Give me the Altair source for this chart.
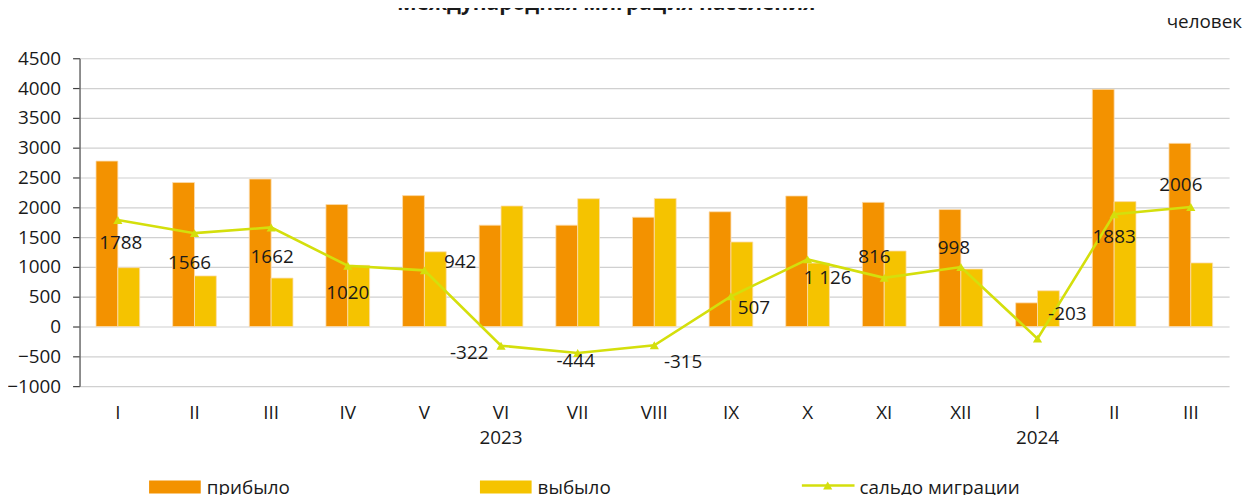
import altair as alt
import pandas as pd

# ---------------- data ----------------
MONTHS = ["I", "II", "III", "IV", "V", "VI", "VII", "VIII", "IX", "X", "XI", "XII", "I", "II", "III"]
YEARS = [2023] * 12 + [2024] * 3
ARRIVED = [2775, 2415, 2474, 2046, 2196, 1700, 1700, 1833, 1925, 2190, 2083, 1962, 397, 3978, 3073]
DEPARTED = [987, 849, 812, 1026, 1254, 2022, 2144, 2148, 1418, 1064, 1267, 964, 600, 2095, 1067]
NET = [1788, 1566, 1662, 1020, 942, -322, -444, -315, 507, 1126, 816, 998, -203, 1883, 2006]
NET_LABELS = ["1788", "1566", "1662", "1020", "942", "-322", "-444", "-315", "507",
              "1 126", "816", "998", "-203", "1883", "2006"]
SERIES = ["прибыло", "выбыло"]
LINE_NAME = "сальдо миграции"
YEAR_LABELS = ["2023", "2024"]
YEAR_LABEL_AT = ["VI|2023", "I|2024"]
Y_TICKS = [-1000, -500, 0, 500, 1000, 1500, 2000, 2500, 3000, 3500, 4000, 4500]
TITLE = "Международная миграция населения"
UNIT = "человек"

# ---------------- layout / style ----------------
LABEL_DX = [3, -5, 1, 0, 36, -32, -2, 29, 23, 20, -10, -7, 30, 0, -10]
LABEL_DY = [23, 30, 30, 28, -8, 7, 8, 17, 12, 19, -21, -19, -25, 23, -22]
FONT = "Open Sans"
ORANGE = "#F39200"
YELLOW = "#F5C300"
LINE = "#D4DF0C"
TXT = "#1a1a1a"

keys = [f"{m}|{y}" for m, y in zip(MONTHS, YEARS)]
bars = pd.DataFrame({
    "key": keys * 2,
    "series": [SERIES[0]] * len(keys) + [SERIES[1]] * len(keys),
    "value": ARRIVED + DEPARTED,
})
line_df = pd.DataFrame({"key": keys, "net": NET, "label": NET_LABELS})
year_df = pd.DataFrame({"key": YEAR_LABEL_AT, "label": YEAR_LABELS})
one = pd.DataFrame({"a": [0]})

x_scale = alt.Scale(domain=keys, paddingInner=0.43, paddingOuter=0.215)
y_scale = alt.Scale(domain=[Y_TICKS[0], Y_TICKS[-1]], nice=False, zero=False)

x_axis = alt.Axis(title=None, labelExpr="split(datum.value, '|')[0]", domain=False, ticks=False,
                  grid=False, labelFontSize=19, labelPadding=18, labelColor=TXT, labelAngle=0,
                  labelFont=FONT)
y_axis = alt.Axis(title=None, values=Y_TICKS, format="d", labelOverlap=False, grid=True,
                  gridColor="#D0D0D0", gridWidth=1.2, domainColor="#6a6a6a", domainWidth=1.5,
                  tickColor="#404040", tickSize=7, tickWidth=1.2, labelFontSize=19,
                  labelPadding=12, labelColor=TXT, labelFont=FONT)


def X():
    return alt.X("key:N", sort=keys, scale=x_scale, axis=x_axis)


def Y(field):
    return alt.Y(field, scale=y_scale, axis=y_axis)


bar_layer = alt.Chart(bars).mark_bar(stroke="#FBDDB0", strokeWidth=0.8).encode(
    x=X(),
    xOffset=alt.XOffset("series:N", sort=SERIES,
                        scale=alt.Scale(domain=SERIES, paddingInner=0, paddingOuter=0)),
    y=Y("value:Q"),
    color=alt.Color("series:N", scale=alt.Scale(domain=SERIES, range=[ORANGE, YELLOW]), legend=None),
)

line_layer = alt.Chart(line_df).mark_line(
    color=LINE, strokeWidth=2.6,
    point=alt.OverlayMarkDef(shape="triangle-up", size=85, color=LINE, filled=True, opacity=1),
).encode(x=X(), y=Y("net:Q"))

label_layers = []
for i, k in enumerate(keys):
    label_layers.append(
        alt.Chart(line_df).transform_filter(alt.datum.key == k).mark_text(
            dx=LABEL_DX[i], dy=LABEL_DY[i], fontSize=19, font=FONT, color=TXT, baseline="middle"
        ).encode(x=X(), y=Y("net:Q"), text="label:N")
    )

year_layer = alt.Chart(year_df).mark_text(fontSize=19, font=FONT, color=TXT, baseline="middle").encode(
    x=X(), y=alt.value(382), text="label:N")

title_layer = alt.Chart(one).mark_text(fontSize=21, font=FONT, fontWeight="bold", color=TXT,
                                       baseline="alphabetic", text=TITLE).encode(
    x=alt.value(530), y=alt.value(-49))
unit_layer = alt.Chart(one).mark_text(fontSize=19, font=FONT, color=TXT, align="right",
                                      baseline="alphabetic", text=UNIT).encode(
    x=alt.value(1170), y=alt.value(-30))

# legend
leg_rect1 = alt.Chart(one).mark_rect(color=ORANGE).encode(
    x=alt.value(70), x2=alt.value(122), y=alt.value(425), y2=alt.value(438))
leg_rect2 = alt.Chart(one).mark_rect(color=YELLOW).encode(
    x=alt.value(403), x2=alt.value(455), y=alt.value(425), y2=alt.value(438))
leg_rule = alt.Chart(one).mark_rule(color=LINE, strokeWidth=2.6).encode(
    x=alt.value(727), x2=alt.value(780), y=alt.value(430))
leg_tri = alt.Chart(one).mark_point(shape="triangle-up", size=85, color=LINE, filled=True, opacity=1).encode(
    x=alt.value(753), y=alt.value(430))
leg_t1 = alt.Chart(one).mark_text(fontSize=19, font=FONT, color=TXT, align="left",
                                  baseline="alphabetic", text=SERIES[0]).encode(
    x=alt.value(128), y=alt.value(439))
leg_t2 = alt.Chart(one).mark_text(fontSize=19, font=FONT, color=TXT, align="left",
                                  baseline="alphabetic", text=SERIES[1]).encode(
    x=alt.value(461), y=alt.value(439))
leg_t3 = alt.Chart(one).mark_text(fontSize=19, font=FONT, color=TXT, align="left",
                                  baseline="alphabetic", text=LINE_NAME).encode(
    x=alt.value(785), y=alt.value(439))

chart = alt.layer(
    bar_layer, line_layer, *label_layers, year_layer, title_layer, unit_layer,
    leg_rect1, leg_rect2, leg_rule, leg_tri, leg_t1, leg_t2, leg_t3,
).properties(
    width=1157, height=330,
    padding={"left": 72, "top": 49, "right": 16, "bottom": 108},
    autosize=alt.AutoSizeParams(type="none"),
).configure(font=FONT, view=alt.ViewConfig(stroke=None))

chart.save("out.html", embed_options={"renderer": "svg", "actions": False})
